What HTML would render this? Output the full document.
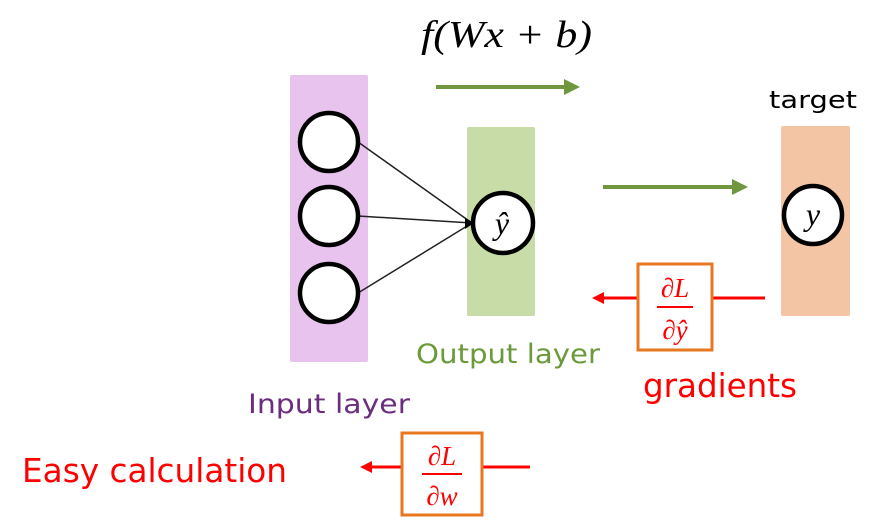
<!DOCTYPE html>
<html><head><meta charset="utf-8"><style>
body{margin:0;background:#fff;width:875px;height:519px;overflow:hidden}
svg text{font-family:"DejaVu Sans","Liberation Sans",sans-serif}
svg text.m{font-family:"Liberation Serif",serif;font-style:italic}
</style></head><body>
<svg width="875" height="519" viewBox="0 0 875 519">
<defs>
<marker id="ag" markerWidth="4" markerHeight="4" refX="2" refY="2" orient="auto"><path d="M0,0L4,2L0,4z" fill="#70963e"/></marker>
<marker id="ar" markerWidth="4" markerHeight="4" refX="2" refY="2" orient="auto"><path d="M0,0L4,2L0,4z" fill="#ff0000"/></marker>
</defs>
<text class="m" x="421" y="47" font-size="38" textLength="171" lengthAdjust="spacingAndGlyphs">f(Wx + b)</text>
<line x1="436" y1="87" x2="572" y2="87" stroke="#70963e" stroke-width="4" marker-end="url(#ag)"/>
<line x1="603" y1="187" x2="740" y2="187" stroke="#70963e" stroke-width="4" marker-end="url(#ag)"/>
<rect x="290" y="75" width="78" height="287" rx="2" fill="#e8c3ee"/>
<rect x="467" y="127" width="68" height="189" rx="2" fill="#c8dca8"/>
<rect x="781" y="126" width="69" height="190" rx="2" fill="#f4c5a4"/>
<g stroke="#222" stroke-width="1.5">
<line x1="358" y1="142" x2="472" y2="223"/><line x1="358" y1="216" x2="472" y2="223"/><line x1="358" y1="293" x2="472" y2="223"/>
</g>
<path d="M465,218 L474,223 L465,229z" fill="#000"/>
<g fill="#fff" stroke="#000" stroke-width="4.5">
<circle cx="329" cy="142" r="29"/>
<circle cx="329" cy="216" r="29"/>
<circle cx="329" cy="293" r="29"/>
<circle cx="503" cy="223" r="30"/>
<circle cx="813" cy="215" r="29"/>
</g>
<text class="m" x="502" y="234" font-size="32" text-anchor="middle">ŷ</text>
<text class="m" x="813" y="225" font-size="32" text-anchor="middle">y</text>
<text x="769" y="108" font-size="24" textLength="88" lengthAdjust="spacingAndGlyphs" fill="#000">target</text>
<text x="416" y="363" font-size="27" textLength="184" lengthAdjust="spacingAndGlyphs" fill="#6a9a3a">Output layer</text>
<text x="248" y="413" font-size="27" textLength="162" lengthAdjust="spacingAndGlyphs" fill="#6b2e7e">Input layer</text>
<line x1="765" y1="298" x2="598" y2="298" stroke="#ff0000" stroke-width="3" marker-end="url(#ar)"/>
<rect x="638" y="264" width="74" height="86" fill="#fff" stroke="#e87722" stroke-width="3"/>
<g fill="#ff0000" font-size="27" text-anchor="middle">
<text x="675" y="297" class="m">∂L</text>
<line x1="657" y1="307" x2="693" y2="307" stroke="#ff0000" stroke-width="2"/>
<text x="675" y="339" class="m">∂ŷ</text>
</g>
<text x="643" y="397" font-size="33" textLength="154" lengthAdjust="spacingAndGlyphs" fill="#ff0000">gradients</text>
<line x1="530" y1="467" x2="366" y2="467" stroke="#ff0000" stroke-width="3" marker-end="url(#ar)"/>
<rect x="402" y="433" width="80" height="82" fill="#fff" stroke="#e87722" stroke-width="3"/>
<g fill="#ff0000" font-size="27" text-anchor="middle">
<text x="442" y="465" class="m">∂L</text>
<line x1="422" y1="474" x2="462" y2="474" stroke="#ff0000" stroke-width="2"/>
<text x="442" y="505" class="m">∂w</text>
</g>
<text x="22" y="482" font-size="33" textLength="265" lengthAdjust="spacingAndGlyphs" fill="#ff0000">Easy calculation</text>
</svg>
</body></html>
